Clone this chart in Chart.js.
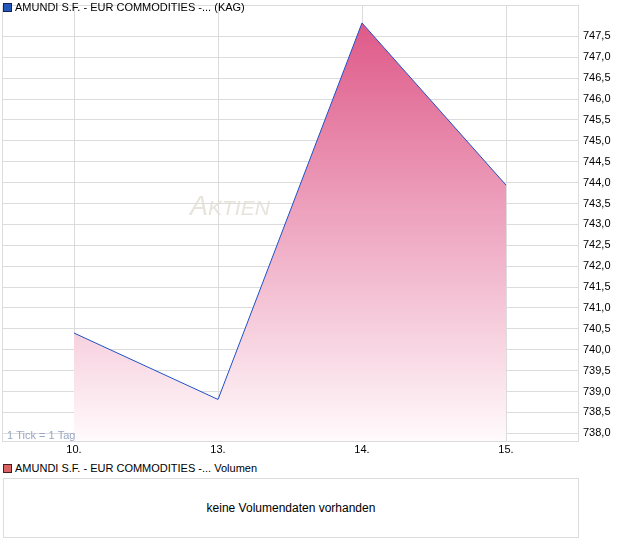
<!DOCTYPE html>
<html lang="de">
<head>
<meta charset="UTF-8" />
<title>AMUNDI S.F. - EUR COMMODITIES (KAG)</title>
<script src="https://cdn.jsdelivr.net/npm/chart.js"></script>
<style>
    body { margin: 0; background: #fff; font-family: "Liberation Sans", Arial, sans-serif; }
    #wrap { position: relative; width: 620px; height: 546px; overflow: hidden; }
    .legend { position: absolute; left: 3px; font-size: 11px; line-height: 12px; color: #000; white-space: nowrap; }
    .legend i { display: inline-block; width: 7px; height: 7px; margin-right: 3px; vertical-align: -0.5px; }
    #priceBox { position: absolute; left: 0; top: 0; width: 620px; height: 460px; }
    #volBox { position: absolute; left: 3px; top: 478px; width: 574px; height: 58px; border: 1px solid #dcdcdc;
              font-size: 12px; line-height: 58px; text-align: center; color: #000; }
</style>
</head>
<body>
<div id="wrap">
    <div id="priceBox"><canvas id="priceChart"></canvas></div>
    <div class="legend" style="top:1px"><i style="background:#2457b8;border:1px solid #10245a"></i>AMUNDI S.F. - EUR COMMODITIES -... (KAG)</div>
    <div class="legend" style="top:462px"><i style="background:#d96363;border:1px solid #4a1c1c"></i>AMUNDI S.F. - EUR COMMODITIES -... Volumen</div>
    <div id="volBox">keine Volumendaten vorhanden</div>
</div>

<script>
    // price data
    const days = ["10.", "13.", "14.", "15."];
    const prices = [740.40, 738.81, 747.82, 743.94];
    const yMin = 737.816;
    const yMax = 748.25;
    const yStep = 0.5;
    const yTickTop = 747.5; // highest labelled tick

    const gridColor = "#dcdcdc";
    const fontFamily = '"Liberation Sans", Arial, sans-serif';

    // frame, watermark and tick note
    const extras = {
        id: "extras",
        beforeDatasetsDraw(chart) {
            const {ctx} = chart;
            ctx.save();
            ctx.fillStyle = "rgba(226,220,210,0.8)";
            ctx.textBaseline = "alphabetic";
            ctx.font = "italic 27px " + fontFamily;
            ctx.fillText("A", 190, 215);
            ctx.font = "italic 21px " + fontFamily;
            ctx.fillText("KTIEN", 208, 215);
            ctx.restore();
        },
        afterDraw(chart) {
            const {ctx, chartArea} = chart;
            ctx.save();
            ctx.strokeStyle = gridColor;
            ctx.lineWidth = 1;
            ctx.beginPath();
            ctx.moveTo(chartArea.left + 0.5, chartArea.bottom);
            ctx.lineTo(chartArea.left + 0.5, chartArea.top + 0.5);
            ctx.lineTo(chartArea.right, chartArea.top + 0.5);
            ctx.stroke();
            ctx.fillStyle = "#9aa6c4";
            ctx.font = "11px " + fontFamily;
            ctx.fillText("1 Tick = 1 Tag", chartArea.left + 5, chartArea.bottom - 2);
            ctx.restore();
        }
    };

    const ctx = document.getElementById("priceChart").getContext("2d");
    new Chart(ctx, {
        type: "line",
        data: {
            labels: days,
            datasets: [
                {
                    data: prices,
                    borderColor: "#1f50c8",
                    borderWidth: 1,
                    pointRadius: 0,
                    tension: 0,
                    fill: "start",
                    backgroundColor(context) {
                        const area = context.chart.chartArea;
                        if (!area) return "rgba(230,110,150,0.6)";
                        const g = context.chart.ctx.createLinearGradient(0, area.top + 15, 0, area.bottom);
                        g.addColorStop(0, "rgb(222,88,136)");
                        g.addColorStop(1, "rgb(255,250,252)");
                        return g;
                    },
                },
            ],
        },
        options: {
            responsive: true,
            maintainAspectRatio: false,
            animation: false,
            layout: { padding: { left: 2, top: 5, right: 0, bottom: 0 } },
            plugins: {
                legend: { display: false },
                tooltip: { enabled: false },
            },
            scales: {
                x: {
                    type: "category",
                    offset: true,
                    grid: { color: gridColor, offset: false, drawTicks: false },
                    border: { color: gridColor },
                    ticks: { color: "#000", padding: 2, font: { family: fontFamily, size: 11 }, maxRotation: 0 },
                    afterFit(scale) { scale.height = 19; },
                },
                y: {
                    position: "right",
                    min: yMin,
                    max: yMax,
                    grid: { color: gridColor, drawTicks: false },
                    border: { color: gridColor },
                    ticks: {
                        stepSize: yStep,
                        includeBounds: false,
                        padding: 5,
                        color: "#000",
                        font: { family: fontFamily, size: 11 },
                        callback: (v) => v.toFixed(1).replace(".", ","),
                    },
                    afterBuildTicks(scale) {
                        scale.ticks = scale.ticks.filter((t) => t.value <= yTickTop + 1e-6);
                    },
                    afterFit(scale) {
                        scale.width = 42;
                        scale.paddingTop = 0;
                        scale.paddingBottom = 0;
                    },
                },
            },
        },
        plugins: [extras],
    });
</script>
</body>
</html>
